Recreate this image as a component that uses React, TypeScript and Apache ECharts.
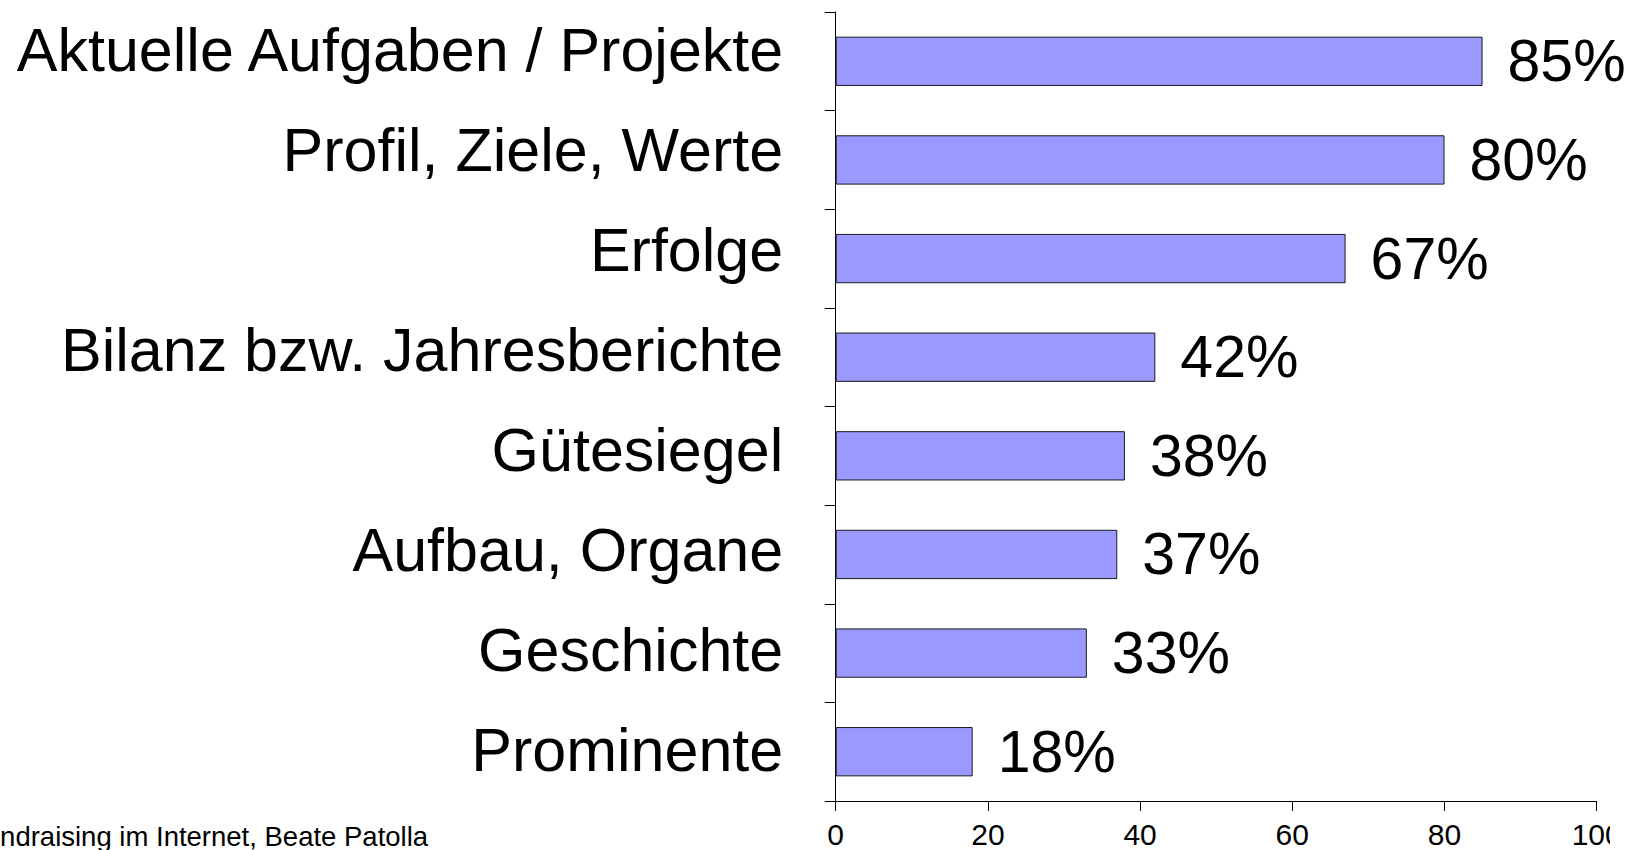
import React, { useEffect, useRef } from "react";
import * as echarts from "echarts";

const categories = [
  "Aktuelle Aufgaben / Projekte",
  "Profil, Ziele, Werte",
  "Erfolge",
  "Bilanz bzw. Jahresberichte",
  "Gütesiegel",
  "Aufbau, Organe",
  "Geschichte",
  "Prominente",
];
const values = [85, 80, 67, 42, 38, 37, 33, 18];
const xTicks = { min: 0, max: 100, interval: 20 };
const footnote = "Fundraising im Internet, Beate Patolla";

const FONT = "'Liberation Sans', Arial, sans-serif";

export default function App() {
  const ref = useRef<HTMLDivElement>(null);
  useEffect(() => {
    if (!ref.current) return;
    const chart = echarts.init(ref.current, null, { renderer: "svg" });
    chart.setOption({
      animation: false,
      backgroundColor: "#ffffff",
      textStyle: { fontFamily: FONT },
      grid: [
        { left: 835.7, right: 55.3, top: 12, bottom: 49, containLabel: false },
        { left: 835.7, right: 55.3, top: -0.5, bottom: 49.5, containLabel: false },
      ],
      xAxis: [
        {
          gridIndex: 0,
          type: "value",
          min: xTicks.min,
          max: xTicks.max,
          interval: xTicks.interval,
          axisLine: { show: true, lineStyle: { color: "#000", width: 1 } },
          axisTick: { show: true, inside: false, length: 10, lineStyle: { color: "#000", width: 1 } },
          axisLabel: { fontSize: 30, color: "#000", margin: 18, fontFamily: FONT },
          splitLine: { show: false },
        },
        {
          gridIndex: 1,
          type: "value",
          min: 0,
          max: 100,
          show: false,
        },
      ],
      yAxis: [
        {
          gridIndex: 0,
          type: "category",
          data: categories,
          inverse: true,
          axisLine: { show: true, lineStyle: { color: "#000", width: 1 } },
          axisTick: { show: true, length: 11, alignWithLabel: false, lineStyle: { color: "#000", width: 1 } },
          axisLabel: { show: false },
          splitLine: { show: false },
        },
        {
          gridIndex: 1,
          type: "category",
          data: categories,
          inverse: true,
          axisLine: { show: false },
          axisTick: { show: false },
          axisLabel: { show: true, fontSize: 61, color: "#000", margin: 52.5, fontFamily: FONT },
          splitLine: { show: false },
        },
      ],
      series: [
        {
          type: "bar",
          xAxisIndex: 0,
          yAxisIndex: 0,
          data: values,
          barCategoryGap: "50%",
          itemStyle: { color: "#9999FF", borderColor: "#1a1a1a", borderWidth: 1 },
          label: {
            show: true,
            position: "right",
            distance: 25,
            formatter: "{c}%",
            fontSize: 59,
            color: "#000",
            fontFamily: FONT,
          },
        },
      ],
      graphic: [
        {
          type: "text",
          x: -32,
          y: 836.5,
          z: 100,
          style: {
            text: footnote,
            fontSize: 27.5,
            fontFamily: FONT,
            fill: "#000",
            verticalAlign: "middle",
            align: "left",
          },
        },
        {
          type: "rect",
          z: 100,
          shape: { x: 1610, y: 815, width: 42, height: 35 },
          style: { fill: "#ffffff" },
        },
      ],
    });
    return () => chart.dispose();
  }, []);
  return (
    <div
      ref={ref}
      style={{ position: "absolute", left: 0, top: 0, width: 1652, height: 850 }}
    />
  );
}
